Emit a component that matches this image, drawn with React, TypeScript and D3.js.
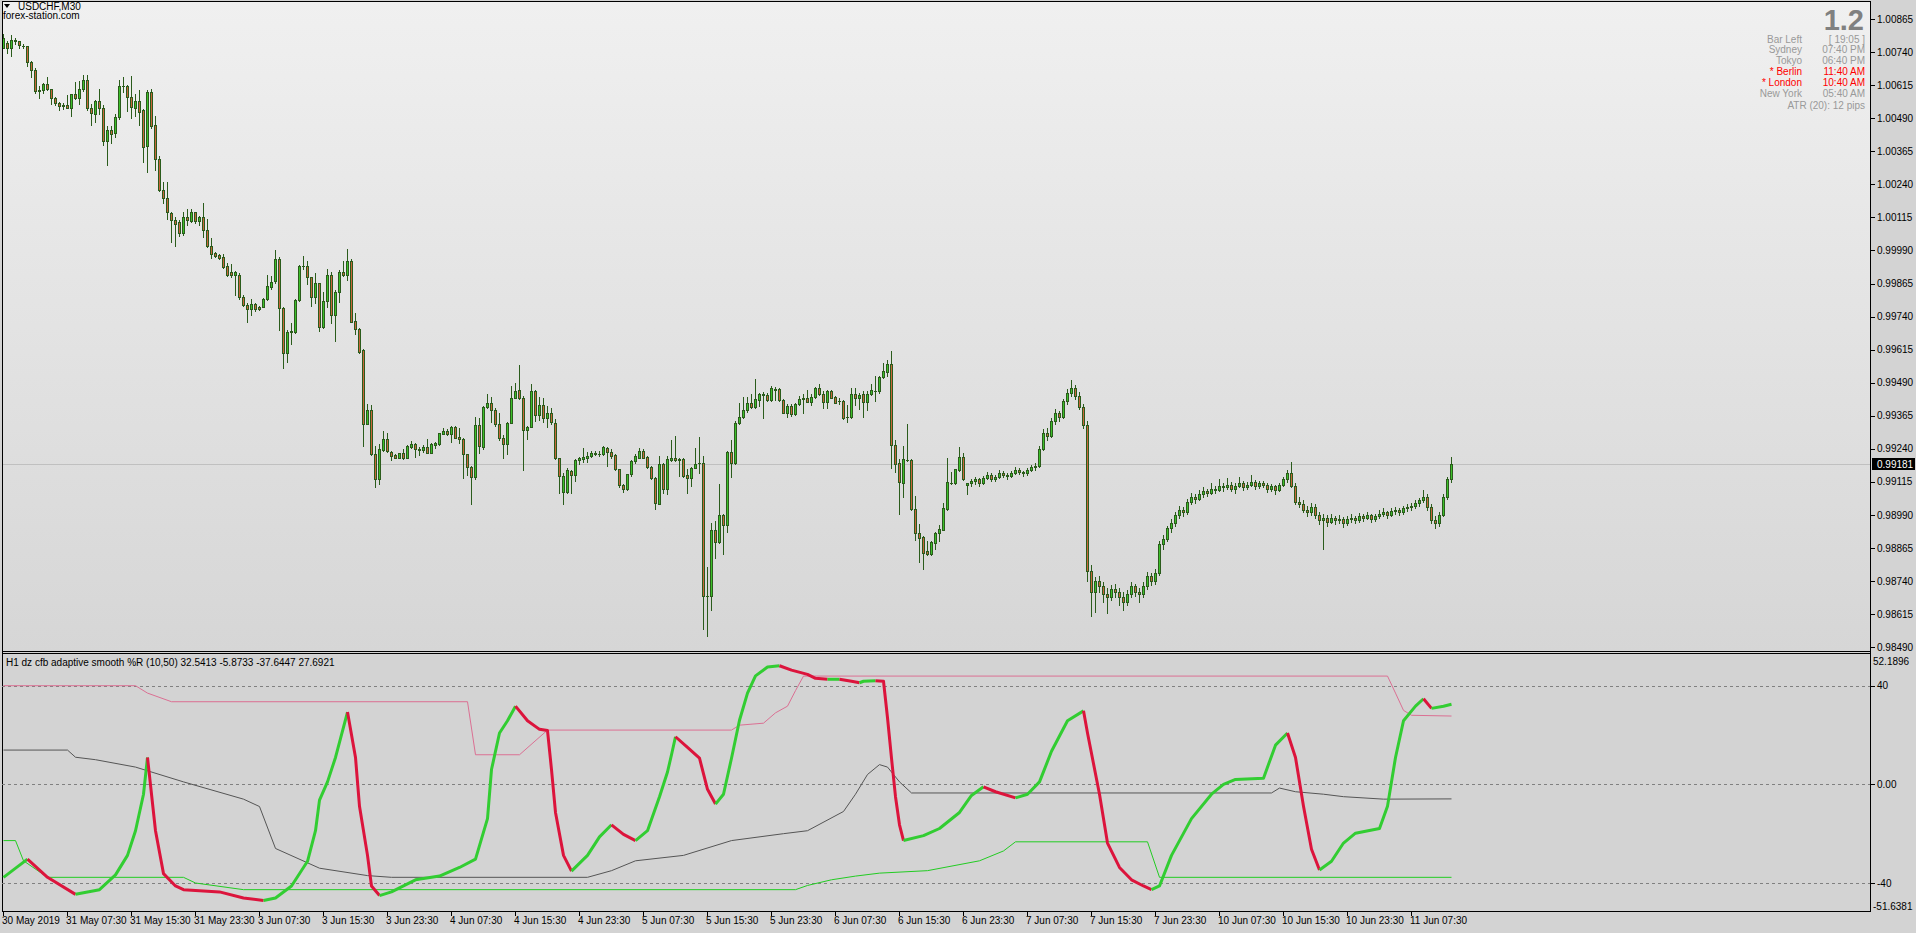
import React from 'react';
import * as d3 from 'd3';

// ---------- price data (USDCHF M30) ----------
const opens = [
1.00754,1.00776,1.00757,1.00781,1.00780,1.00764,1.00762,1.00701,1.00672,1.00591,
1.00598,1.00621,1.00600,1.00568,1.00546,1.00541,1.00541,1.00530,1.00581,1.00568,
1.00600,1.00636,1.00530,1.00507,1.00554,1.00530,1.00404,1.00444,1.00434,1.00495,
1.00610,1.00613,1.00572,1.00530,1.00554,1.00520,1.00385,1.00588,1.00463,1.00337,
1.00219,1.00189,1.00132,1.00106,1.00096,1.00056,1.00118,1.00103,1.00134,1.00101,
1.00115,1.00068,1.00007,0.99981,0.99972,0.99966,0.99931,0.99907,0.99896,0.99899,
0.99815,0.99785,0.99767,0.99787,0.99777,0.99777,0.99806,0.99853,0.99873,0.99959,
0.99772,0.99601,0.99680,0.99683,0.99803,0.99931,0.99931,0.99889,0.99813,0.99867,
0.99699,0.99800,0.99899,0.99745,0.99832,0.99910,0.99896,0.99952,0.99723,0.99693,
0.99613,0.99335,0.99387,0.99219,0.99127,0.99236,0.99276,0.99228,0.99217,0.99206,
0.99223,0.99206,0.99248,0.99257,0.99241,0.99237,0.99247,0.99225,0.99255,0.99257,
0.99297,0.99308,0.99297,0.99323,0.99285,0.99277,0.99219,0.99172,0.99135,0.99329,
0.99248,0.99400,0.99415,0.99386,0.99333,0.99283,0.99257,0.99337,0.99434,0.99462,
0.99434,0.99313,0.99324,0.99460,0.99367,0.99405,0.99356,0.99375,0.99337,0.99204,
0.99078,0.99078,0.99156,0.99140,0.99197,0.99201,0.99204,0.99213,0.99220,0.99220,
0.99220,0.99245,0.99228,0.99216,0.99163,0.99103,0.99087,0.99144,0.99194,0.99207,
0.99232,0.99210,0.99172,0.99131,0.99033,0.99182,0.99087,0.99199,0.99207,0.99201,
0.99201,0.99140,0.99129,0.99169,0.99187,0.99187,0.98683,0.98683,0.98933,0.98889,
0.98990,0.98951,0.99228,0.99188,0.99336,0.99359,0.99388,0.99414,0.99398,0.99425,
0.99444,0.99444,0.99424,0.99462,0.99467,0.99424,0.99375,0.99403,0.99371,0.99409,
0.99427,0.99432,0.99419,0.99437,0.99472,0.99449,0.99419,0.99460,0.99437,0.99422,
0.99422,0.99359,0.99359,0.99447,0.99432,0.99447,0.99419,0.99447,0.99460,0.99457,
0.99510,0.99529,0.99561,0.99255,0.99185,0.99112,0.99199,0.99198,0.99011,0.98923,
0.98906,0.98853,0.98841,0.98886,0.98921,0.98935,0.99014,0.99112,0.99112,0.99160,
0.99210,0.99102,0.99110,0.99118,0.99125,0.99112,0.99130,0.99140,0.99128,0.99135,
0.99150,0.99142,0.99138,0.99150,0.99160,0.99152,0.99148,0.99160,0.99170,0.99175,
0.99240,0.99300,0.99290,0.99345,0.99375,0.99360,0.99420,0.99450,0.99470,0.99440,
0.99400,0.99330,0.98780,0.98700,0.98740,0.98720,0.98690,0.98680,0.98710,0.98700,
0.98680,0.98660,0.98690,0.98720,0.98700,0.98690,0.98720,0.98760,0.98740,0.98770,
0.98880,0.98900,0.98940,0.98960,0.98990,0.99010,0.99000,0.99040,0.99060,0.99050,
0.99070,0.99080,0.99075,0.99090,0.99085,0.99100,0.99095,0.99105,0.99090,0.99100,
0.99110,0.99095,0.99105,0.99115,0.99100,0.99110,0.99105,0.99090,0.99100,0.99085,
0.99105,0.99125,0.99150,0.99100,0.99040,0.99030,0.99010,0.99000,0.99020,0.98990,
0.98970,0.98980,0.98965,0.98980,0.98970,0.98975,0.98960,0.98975,0.98980,0.98970,
0.98985,0.98980,0.98990,0.98975,0.98985,0.98995,0.99000,0.98990,0.99005,0.99010,
0.99000,0.99015,0.99020,0.99025,0.99035,0.99045,0.99060,0.99020,0.98970,0.98960,
0.98990,0.99060,0.99125];
const highs = [
1.00808,1.00783,1.00804,1.00795,1.00783,1.00769,1.00764,1.00706,1.00678,1.00611,
1.00624,1.00646,1.00602,1.00571,1.00552,1.00548,1.00576,1.00583,1.00627,1.00630,
1.00653,1.00653,1.00543,1.00558,1.00602,1.00539,1.00459,1.00459,1.00505,1.00636,
1.00646,1.00615,1.00649,1.00581,1.00596,1.00523,1.00598,1.00602,1.00497,1.00349,
1.00248,1.00248,1.00135,1.00116,1.00106,1.00137,1.00147,1.00147,1.00137,1.00122,
1.00171,1.00110,1.00038,0.99986,0.99977,0.99977,0.99942,0.99939,0.99911,0.99904,
0.99823,0.99790,0.99806,0.99790,0.99781,0.99810,0.99899,0.99895,0.99993,0.99967,
0.99777,0.99689,0.99717,0.99806,0.99934,0.99971,0.99952,0.99891,0.99905,0.99868,
0.99832,0.99919,0.99907,0.99841,0.99916,0.99952,0.99996,0.99958,0.99753,0.99697,
0.99617,0.99409,0.99406,0.99251,0.99257,0.99308,0.99301,0.99232,0.99222,0.99225,
0.99241,0.99255,0.99270,0.99263,0.99247,0.99255,0.99276,0.99263,0.99267,0.99300,
0.99318,0.99314,0.99326,0.99326,0.99320,0.99282,0.99222,0.99175,0.99361,0.99358,
0.99402,0.99449,0.99437,0.99396,0.99374,0.99292,0.99340,0.99478,0.99489,0.99558,
0.99441,0.99327,0.99485,0.99462,0.99437,0.99434,0.99403,0.99396,0.99352,0.99207,
0.99148,0.99167,0.99159,0.99201,0.99210,0.99242,0.99230,0.99232,0.99232,0.99232,
0.99251,0.99247,0.99239,0.99220,0.99165,0.99106,0.99146,0.99198,0.99220,0.99242,
0.99239,0.99212,0.99177,0.99134,0.99213,0.99188,0.99213,0.99274,0.99289,0.99207,
0.99207,0.99163,0.99172,0.99242,0.99285,0.99213,0.98793,0.98961,0.98967,0.99106,
0.98992,0.99232,0.99274,0.99346,0.99415,0.99437,0.99437,0.99447,0.99504,0.99453,
0.99456,0.99453,0.99478,0.99475,0.99472,0.99428,0.99409,0.99409,0.99412,0.99441,
0.99449,0.99462,0.99449,0.99475,0.99485,0.99460,0.99462,0.99462,0.99441,0.99434,
0.99424,0.99407,0.99472,0.99470,0.99451,0.99460,0.99457,0.99487,0.99516,0.99516,
0.99563,0.99576,0.99611,0.99273,0.99201,0.99251,0.99333,0.99201,0.99062,0.98957,
0.98910,0.98891,0.98891,0.98927,0.98954,0.99034,0.99207,0.99153,0.99165,0.99247,
0.99226,0.99112,0.99128,0.99135,0.99130,0.99138,0.99152,0.99148,0.99142,0.99160,
0.99158,0.99150,0.99158,0.99170,0.99168,0.99158,0.99168,0.99180,0.99185,0.99250,
0.99315,0.99320,0.99355,0.99390,0.99385,0.99430,0.99465,0.99500,0.99480,0.99455,
0.99410,0.99345,0.98800,0.98755,0.98760,0.98735,0.98715,0.98725,0.98730,0.98715,
0.98700,0.98705,0.98735,0.98730,0.98715,0.98735,0.98775,0.98770,0.98785,0.98890,
0.98915,0.98950,0.98975,0.99000,0.99025,0.99020,0.99050,0.99075,0.99070,0.99085,
0.99095,0.99090,0.99110,0.99100,0.99125,0.99112,0.99130,0.99115,0.99110,0.99135,
0.99118,0.99115,0.99140,0.99122,0.99118,0.99120,0.99112,0.99108,0.99105,0.99112,
0.99135,0.99160,0.99192,0.99110,0.99060,0.99045,0.99025,0.99035,0.99030,0.99000,
0.98995,0.98990,0.98995,0.98988,0.98990,0.98982,0.98985,0.98992,0.98985,0.98998,
0.98992,0.99002,0.98995,0.98995,0.99008,0.99015,0.99005,0.99018,0.99022,0.99015,
0.99025,0.99030,0.99035,0.99045,0.99055,0.99085,0.99068,0.99030,0.98985,0.99000,
0.99070,0.99132,0.99210];
const lows = [
1.00754,1.00735,1.00726,1.00769,1.00754,1.00755,1.00688,1.00644,1.00587,1.00568,
1.00586,1.00598,1.00545,1.00539,1.00520,1.00526,1.00528,1.00499,1.00563,1.00545,
1.00593,1.00520,1.00466,1.00476,1.00507,1.00390,1.00314,1.00396,1.00419,1.00488,
1.00589,1.00516,1.00492,1.00500,1.00466,1.00324,1.00286,1.00454,1.00296,1.00214,
1.00169,1.00108,1.00021,1.00006,1.00044,1.00050,1.00088,1.00099,1.00093,1.00088,
1.00040,1.00005,0.99962,0.99964,0.99957,0.99924,0.99894,0.99891,0.99823,0.99805,
0.99779,0.99718,0.99745,0.99760,0.99765,0.99775,0.99803,0.99843,0.99868,0.99689,
0.99544,0.99570,0.99638,0.99679,0.99800,0.99920,0.99863,0.99781,0.99790,0.99686,
0.99697,0.99777,0.99714,0.99648,0.99794,0.99894,0.99878,0.99718,0.99676,0.99603,
0.99251,0.99333,0.99217,0.99097,0.99108,0.99232,0.99229,0.99199,0.99204,0.99204,
0.99203,0.99204,0.99244,0.99210,0.99217,0.99229,0.99223,0.99223,0.99242,0.99255,
0.99295,0.99292,0.99267,0.99280,0.99263,0.99131,0.99140,0.99030,0.99128,0.99225,
0.99238,0.99396,0.99340,0.99327,0.99275,0.99204,0.99220,0.99336,0.99432,0.99428,
0.99159,0.99276,0.99323,0.99346,0.99351,0.99340,0.99324,0.99333,0.99201,0.99072,
0.99030,0.99074,0.99074,0.99119,0.99184,0.99192,0.99192,0.99210,0.99217,0.99213,
0.99216,0.99175,0.99207,0.99159,0.99097,0.99078,0.99084,0.99137,0.99188,0.99204,
0.99204,0.99169,0.99127,0.99014,0.99030,0.99074,0.99071,0.99194,0.99194,0.99137,
0.99134,0.99074,0.99098,0.99167,0.99150,0.98559,0.98534,0.98632,0.98828,0.98886,
0.98844,0.98927,0.99135,0.99182,0.99333,0.99356,0.99381,0.99395,0.99394,0.99403,
0.99356,0.99422,0.99422,0.99424,0.99422,0.99374,0.99361,0.99365,0.99369,0.99407,
0.99377,0.99418,0.99407,0.99434,0.99444,0.99396,0.99394,0.99432,0.99413,0.99409,
0.99353,0.99343,0.99356,0.99407,0.99390,0.99359,0.99388,0.99444,0.99422,0.99453,
0.99508,0.99516,0.99169,0.99153,0.98995,0.99058,0.99194,0.99009,0.98895,0.98813,
0.98786,0.98838,0.98838,0.98862,0.98891,0.98932,0.99009,0.99108,0.99106,0.99156,
0.99122,0.99071,0.99100,0.99108,0.99100,0.99106,0.99125,0.99118,0.99120,0.99130,
0.99135,0.99128,0.99132,0.99145,0.99145,0.99138,0.99142,0.99155,0.99160,0.99170,
0.99235,0.99275,0.99285,0.99335,0.99345,0.99355,0.99410,0.99440,0.99430,0.99390,
0.99320,0.98740,0.98610,0.98625,0.98700,0.98660,0.98620,0.98670,0.98680,0.98650,
0.98630,0.98650,0.98680,0.98685,0.98660,0.98680,0.98710,0.98725,0.98730,0.98765,
0.98860,0.98890,0.98925,0.98950,0.98980,0.98985,0.98995,0.99030,0.99035,0.99045,
0.99060,0.99062,0.99070,0.99072,0.99080,0.99082,0.99090,0.99080,0.99075,0.99095,
0.99085,0.99088,0.99100,0.99090,0.99092,0.99095,0.99078,0.99080,0.99070,0.99080,
0.99100,0.99115,0.99095,0.99030,0.99020,0.99000,0.98985,0.98990,0.98980,0.98955,
0.98860,0.98950,0.98958,0.98955,0.98960,0.98945,0.98952,0.98965,0.98958,0.98965,
0.98968,0.98975,0.98962,0.98968,0.98980,0.98988,0.98978,0.98985,0.98995,0.98990,
0.98995,0.99005,0.99008,0.99015,0.99025,0.99040,0.99010,0.98960,0.98940,0.98950,
0.98985,0.99050,0.99115];
const closes = [
1.00792,1.00757,1.00785,1.00784,1.00765,1.00762,1.00701,1.00672,1.00591,1.00598,
1.00621,1.00602,1.00568,1.00549,1.00536,1.00538,1.00530,1.00581,1.00568,1.00602,
1.00636,1.00530,1.00511,1.00554,1.00530,1.00404,1.00444,1.00432,1.00496,1.00611,
1.00613,1.00572,1.00533,1.00554,1.00514,1.00381,1.00589,1.00459,1.00337,1.00217,
1.00189,1.00135,1.00106,1.00089,1.00056,1.00118,1.00106,1.00134,1.00103,1.00118,
1.00068,1.00007,0.99977,0.99969,0.99962,0.99926,0.99896,0.99896,0.99907,0.99815,
0.99784,0.99767,0.99787,0.99770,0.99767,0.99806,0.99856,0.99872,0.99959,0.99772,
0.99601,0.99683,0.99685,0.99803,0.99931,0.99930,0.99889,0.99813,0.99867,0.99699,
0.99800,0.99899,0.99747,0.99832,0.99910,0.99896,0.99952,0.99721,0.99693,0.99607,
0.99335,0.99387,0.99219,0.99127,0.99238,0.99276,0.99232,0.99215,0.99206,0.99223,
0.99206,0.99251,0.99257,0.99238,0.99236,0.99247,0.99225,0.99257,0.99262,0.99299,
0.99308,0.99297,0.99323,0.99282,0.99277,0.99219,0.99172,0.99135,0.99329,0.99251,
0.99400,0.99415,0.99386,0.99333,0.99283,0.99257,0.99337,0.99434,0.99457,0.99434,
0.99311,0.99321,0.99460,0.99367,0.99405,0.99356,0.99375,0.99340,0.99204,0.99136,
0.99137,0.99159,0.99140,0.99197,0.99206,0.99210,0.99213,0.99223,0.99223,0.99220,
0.99249,0.99230,0.99213,0.99163,0.99102,0.99087,0.99144,0.99194,0.99213,0.99232,
0.99207,0.99172,0.99131,0.99036,0.99182,0.99087,0.99201,0.99207,0.99198,0.99199,
0.99137,0.99129,0.99169,0.99184,0.99187,0.98683,0.98683,0.98933,0.98889,0.98990,
0.98951,0.99228,0.99188,0.99338,0.99361,0.99388,0.99414,0.99398,0.99428,0.99447,
0.99449,0.99424,0.99471,0.99466,0.99424,0.99375,0.99403,0.99371,0.99409,0.99428,
0.99432,0.99419,0.99437,0.99472,0.99447,0.99419,0.99460,0.99434,0.99415,0.99422,
0.99356,0.99359,0.99449,0.99432,0.99444,0.99419,0.99449,0.99462,0.99460,0.99513,
0.99534,0.99561,0.99254,0.99184,0.99116,0.99201,0.99199,0.99011,0.98923,0.98904,
0.98846,0.98841,0.98887,0.98921,0.98938,0.99015,0.99115,0.99112,0.99163,0.99210,
0.99125,0.99110,0.99118,0.99125,0.99112,0.99130,0.99140,0.99128,0.99135,0.99150,
0.99142,0.99138,0.99150,0.99160,0.99152,0.99148,0.99160,0.99170,0.99175,0.99240,
0.99300,0.99290,0.99345,0.99375,0.99360,0.99420,0.99450,0.99470,0.99440,0.99400,
0.99330,0.98780,0.98700,0.98740,0.98720,0.98690,0.98680,0.98710,0.98700,0.98680,
0.98660,0.98690,0.98720,0.98700,0.98690,0.98720,0.98760,0.98740,0.98770,0.98880,
0.98900,0.98940,0.98960,0.98990,0.99010,0.99000,0.99040,0.99060,0.99050,0.99070,
0.99080,0.99075,0.99090,0.99085,0.99100,0.99095,0.99105,0.99090,0.99100,0.99110,
0.99095,0.99105,0.99115,0.99100,0.99110,0.99105,0.99090,0.99100,0.99085,0.99105,
0.99125,0.99150,0.99100,0.99040,0.99030,0.99010,0.99000,0.99020,0.98990,0.98970,
0.98980,0.98965,0.98980,0.98970,0.98975,0.98960,0.98975,0.98980,0.98970,0.98985,
0.98980,0.98990,0.98975,0.98985,0.98995,0.99000,0.98990,0.99005,0.99010,0.99000,
0.99015,0.99020,0.99025,0.99035,0.99045,0.99060,0.99020,0.98970,0.98960,0.98990,
0.99060,0.99125,0.99181];

const bidLabel = '0.99181';
const priceTicks = [1.00865,1.00740,1.00615,1.00490,1.00365,1.00240,1.00115,0.99990,0.99865,0.99740,
  0.99615,0.99490,0.99365,0.99240,0.99115,0.98990,0.98865,0.98740,0.98615,0.98490];
const timeLabels = ['30 May 2019','31 May 07:30','31 May 15:30','31 May 23:30','3 Jun 07:30','3 Jun 15:30',
  '3 Jun 23:30','4 Jun 07:30','4 Jun 15:30','4 Jun 23:30','5 Jun 07:30','5 Jun 15:30','5 Jun 23:30',
  '6 Jun 07:30','6 Jun 15:30','6 Jun 23:30','7 Jun 07:30','7 Jun 15:30','7 Jun 23:30','10 Jun 07:30',
  '10 Jun 15:30','10 Jun 23:30','11 Jun 07:30'];
const timeLabelBars = [0,16,32,48,64,80,96,112,128,144,160,176,192,208,224,240,256,272,288,304,320,336,352];

// ---------- indicator (bar, value) ----------
const wprMain: [number, number][] = [[0,-37.7],[6,-30.3],[11,-37.7],[18,-44.6],[24,-42.7],[28,-36.7],[31,-28.8],[33,-18.8],[35,-4],[36,10.9],[38,-18.8],[40,-36.2],[43,-41.2],[45,-42.7],[54,-43.6],[60,-46.1],[65,-47.1],[68,-46.1],[72,-41.2],[76,-31.2],[78,-18.8],[79,-6.4],[81,1],[83,10.9],[86,29.3],[88,10.9],[89,-8.9],[91,-28.8],[92,-41.2],[94,-45.1],[97,-43.6],[103,-38.7],[109,-37.2],[114,-33.7],[118,-30.3],[121,-13.9],[122,6],[124,20.8],[126,25.8],[128,31.7],[131,25.8],[134,22.3],[136,21.8],[137,6],[138,-11.4],[140,-28.8],[142,-35.2],[146,-28.8],[149,-21.3],[152,-16.4],[155,-20.3],[158,-22.8],[161,-18.8],[164,-5],[166,5],[167,12],[168,19.3],[171,15],[174,10.6],[176,-2],[178,-8],[180,-4],[182,10.6],[184,26],[186,37],[188,44],[191,47.6],[194,48.1],[197,46.3],[201,44.6],[203,43],[206,42.6],[209,42.6],[212,41.8],[214,41.2],[215,41.8],[218,42],[220,41.8],[221,27],[222,10.6],[223,-5],[224,-16.4],[225,-22.8],[230,-20.8],[234,-17.9],[239,-11.4],[242,-4.5],[245,-1],[248,-3],[253,-5.5],[256,-4],[259,1],[262,13.4],[266,25.8],[270,29.8],[271,20.8],[274,-4],[276,-23.8],[279,-33.7],[282,-38.7],[285,-41.2],[287,-42.7],[289,-41.2],[292,-28.8],[297,-13.9],[302,-4],[305,0],[308,2],[315,2.5],[318,15.9],[321,20.8],[323,10.9],[325,-8.9],[327,-26.3],[329,-34.7],[332,-31.2],[335,-23.8],[338,-19.8],[344,-17.9],[346,-8.9],[348,10.9],[350,25.8],[353,31.7],[355,34.7],[357,30.8],[360,31.7],[362,32.5]];
const wprUpper: [number, number][] = [[0,40],[33,40],[36,37],[42,33.5],[116,33.5],[118,12],[129,12],[136,22],[182,22],[184,24],[190,24.8],[193,29],[196,31.7],[198,38],[200,43.9],[346,43.9],[348,37],[350,30],[352,28],[362,27.7]];
const wprMid: [number, number][] = [[0,13.9],[16,13.9],[18,11],[23,10],[33,7],[45,1],[60,-6],[64,-9],[68,-26],[79,-34],[91,-37],[97,-37.7],[146,-37.7],[152,-35],[158,-31],[170,-28.8],[182,-22.8],[195,-20],[201,-18.8],[210,-11],[213,-4],[216,4],[219,8],[221,7],[224,1],[227,-3.5],[317,-3.5],[319,-1.5],[323,-3],[330,-4],[335,-5],[345,-6],[362,-5.9]];
const wprLower: [number, number][] = [[0,-22.8],[3,-22.8],[5,-31],[11,-37.7],[45,-37.7],[48,-40],[60,-42.7],[198,-42.7],[201,-41],[207,-38.7],[213,-37.2],[219,-36],[231,-35],[244,-31],[250,-27],[253,-23.3],[286,-23.3],[289,-37.7],[362,-37.7]];
const wprLevels = [40, 0, -40];
const wprMax = 52.1896;
const wprMin = -51.6381;
const indTitle = 'H1 dz cfb adaptive smooth %R (10,50) 32.5413 -5.8733 -37.6447 27.6921';

const sessionNames = ['Bar Left','Sydney','Tokyo','* Berlin','* London','New York'];
const sessionTimes = ['[ 19:05 ]','07:40 PM','06:40 PM','11:40 AM','10:40 AM','05:40 AM'];
const sessionActive = [false,false,false,true,true,false];
const atrText = 'ATR (20): 12 pips';
const spreadText = '1.2';

const FONT = '"Liberation Sans", Arial, sans-serif';
const OUT = '#2b5c1c';
const BULL = '#3cbf2a';
const BEAR = '#c8663a';
const GREEN = '#32cd32';
const RED = '#dc143c';

export default function App() {
  const n = closes.length;
  const xBar = d3.scaleLinear().domain([0, 1]).range([3, 7]);
  const yP = d3.scaleLinear().domain([0.98490, 1.00865]).range([647.3, 19]);
  const yI = d3.scaleLinear().domain([-40, 40]).range([883, 685.7]);
  const RIGHT = 1870;

  const candles: any[] = [];
  for (let i = 0; i < n; i++) {
    const o = opens[i], h = highs[i], l = lows[i], c = closes[i];
    const col = Math.round(xBar(i));
    const yh = Math.round(yP(h)), yl = Math.round(yP(l));
    const yo = Math.round(yP(o)), yc = Math.round(yP(c));
    const top = Math.min(yo, yc), bot = Math.max(yo, yc);
    const bull = c >= o;
    candles.push(
      <g key={i}>
        <rect x={col} y={yh} width={1} height={yl - yh + 1} fill={OUT} />
        <rect x={col - 1} y={top} width={3} height={bot - top + 1} fill={OUT} />
        {bot - top >= 2 && <rect x={col} y={top + 1} width={1} height={bot - top - 1} fill={bull ? BULL : BEAR} />}
      </g>
    );
  }

  const line = d3.line<[number, number]>().x(d => xBar(d[0]) + 0.5).y(d => yI(d[1]));

  const runs: { color: string; pts: [number, number][] }[] = [];
  for (let k = 1; k < wprMain.length; k++) {
    const a = wprMain[k - 1], b = wprMain[k];
    const color = b[1] >= a[1] ? GREEN : RED;
    const last = runs[runs.length - 1];
    if (last && last.color === color) last.pts.push(b);
    else runs.push({ color, pts: [a, b] });
  }

  const lastClose = closes[n - 1];
  const bidY = Math.round(yP(lastClose)) + 0.5;

  return (
    <svg width={1916} height={933} style={{ position: 'absolute', left: 0, top: 0 }} fontFamily={FONT}>
      <defs>
        <linearGradient id="mainbg" x1="0" y1="0" x2="0" y2="1">
          <stop offset="0" stopColor="#f0f0f0" />
          <stop offset="1" stopColor="#d6d6d6" />
        </linearGradient>
        <clipPath id="mainclip"><rect x={2} y={2} width={RIGHT - 2} height={649} /></clipPath>
        <clipPath id="indclip"><rect x={2} y={654} width={RIGHT - 2} height={257} /></clipPath>
      </defs>
      <rect x={0} y={0} width={1916} height={933} fill="#d3d3d3" />
      <rect x={2} y={1} width={RIGHT - 2} height={651} fill="url(#mainbg)" />
      <rect x={2} y={654} width={RIGHT - 2} height={257} fill="#d3d3d3" />

      <line x1={2} x2={RIGHT} y1={bidY} y2={bidY} stroke="#c0c0c0" strokeWidth={1} />
      <g clipPath="url(#mainclip)" shapeRendering="crispEdges">{candles}</g>

      <g stroke="#000" strokeWidth={1} shapeRendering="crispEdges" fill="none">
        <line x1={2.5} x2={2.5} y1={1} y2={912} />
        <line x1={2} x2={RIGHT + 1} y1={1.5} y2={1.5} />
        <line x1={RIGHT + 0.5} x2={RIGHT + 0.5} y1={1} y2={912} />
        <line x1={2} x2={RIGHT + 1} y1={651.5} y2={651.5} />
        <line x1={2} x2={RIGHT + 1} y1={653.5} y2={653.5} />
        <line x1={2} x2={RIGHT + 1} y1={911.5} y2={911.5} />
      </g>

      <g fontSize={10} fill="#000">
        {priceTicks.map(p => (
          <g key={p}>
            <line x1={RIGHT + 1} x2={RIGHT + 5} y1={Math.round(yP(p)) + 0.5} y2={Math.round(yP(p)) + 0.5} stroke="#000" />
            <text x={RIGHT + 7} y={yP(p)} dy="0.35em">{p.toFixed(5)}</text>
          </g>
        ))}
      </g>
      <rect x={RIGHT + 2} y={bidY - 6.5} width={43} height={12} fill="#000" />
      <text x={RIGHT + 7} y={bidY} dy="0.35em" fontSize={10} fill="#fff">{bidLabel}</text>

      <path d="M4,4 L10,4 L7,8 Z" fill="#000" />
      <text x={18} y={10} fontSize={10} fill="#000">USDCHF,M30</text>
      <text x={3} y={19} fontSize={10} fill="#000">forex-station.com</text>

      <text x={1864} y={30} fontSize={29} fontWeight="bold" fill="#808080" textAnchor="end">{spreadText}</text>
      {sessionNames.map((s, i) => (
        <g key={s} fontSize={10} fill={sessionActive[i] ? '#ff0000' : '#999999'}>
          <text x={1802} y={42.5 + i * 10.9} textAnchor="end">{s}</text>
          <text x={1865} y={42.5 + i * 10.9} textAnchor="end">{sessionTimes[i]}</text>
        </g>
      ))}
      <text x={1865} y={108.5} fontSize={10} fill="#999999" textAnchor="end">{atrText}</text>

      <g clipPath="url(#indclip)">
        {wprLevels.map(v => (
          <line key={v} x1={2} x2={RIGHT} y1={Math.round(yI(v)) + 0.5} y2={Math.round(yI(v)) + 0.5}
            stroke="#808080" strokeDasharray="3,3" shapeRendering="crispEdges" />
        ))}
        <path d={line(wprMid) || ''} fill="none" stroke="#555555" strokeWidth={1} />
        <path d={line(wprLower) || ''} fill="none" stroke="#22cc22" strokeWidth={1} />
        <path d={line(wprUpper) || ''} fill="none" stroke="#db7093" strokeWidth={1} />
        {runs.map((r, i) => (
          <path key={i} d={line(r.pts) || ''} fill="none" stroke={r.color} strokeWidth={3} strokeLinejoin="round" />
        ))}
      </g>
      <text x={6} y={665.5} fontSize={10} fill="#000">{indTitle}</text>
      <g fontSize={10} fill="#000">
        <text x={RIGHT + 3} y={yI(wprMax) + 5.5} dy="0.35em">{wprMax.toFixed(4)}</text>
        {wprLevels.map(v => (
          <g key={v}>
            <line x1={RIGHT + 1} x2={RIGHT + 5} y1={Math.round(yI(v)) + 0.5} y2={Math.round(yI(v)) + 0.5} stroke="#000" />
            <text x={RIGHT + 7} y={yI(v)} dy="0.35em">{v === 0 ? '0.00' : String(v)}</text>
          </g>
        ))}
        <text x={RIGHT + 3} y={yI(wprMin) - 5.5} dy="0.35em">{wprMin.toFixed(4)}</text>
      </g>

      <g fontSize={10} fill="#000">
        {timeLabelBars.map((b, k) => (
          <g key={b}>
            <line x1={xBar(b) + 0.5} x2={xBar(b) + 0.5} y1={912} y2={916} stroke="#000" />
            <text x={xBar(b) - 1} y={924}>{timeLabels[k]}</text>
          </g>
        ))}
      </g>
    </svg>
  );
}
